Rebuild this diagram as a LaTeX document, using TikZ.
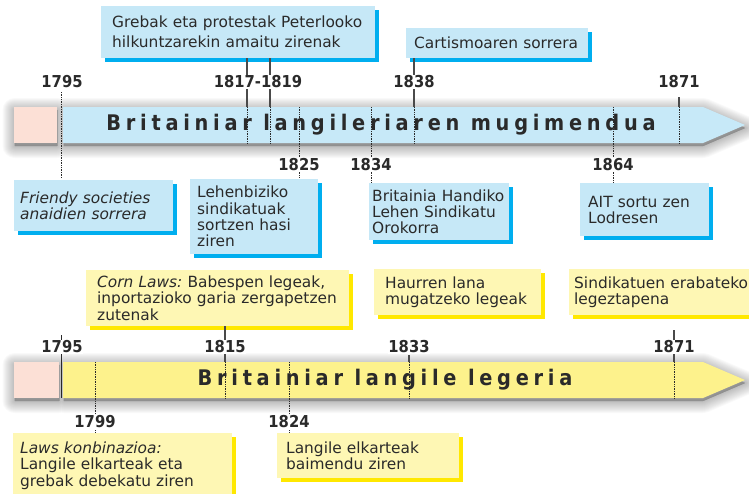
\documentclass[tikz,border=0pt]{standalone}
\usepackage{fontspec}
\setmainfont{DejaVu Sans}
\newfontfamily\condfont{DejaVu Sans Condensed}
\usetikzlibrary{shadows}
\definecolor{bandblue}{HTML}{C7E9F8}
\definecolor{boxblue}{HTML}{C6E8F7}
\definecolor{cyanS}{HTML}{00AEEF}
\definecolor{pinkc}{HTML}{FCE0D6}
\definecolor{bandyel}{HTML}{FDF28C}
\definecolor{boxyel}{HTML}{FEF7B4}
\definecolor{yelS}{HTML}{FFE800}
\definecolor{ink}{HTML}{2A2A2A}
\newcommand\bandshadow[1]{\foreach \w in {2,4,...,24}{\fill[black, opacity=0.024, draw=black, line width=\w pt, line join=round] #1;}}
\begin{document}
\begin{tikzpicture}[x=1pt,y=-1pt,
  yr/.style={font=\condfont\bfseries\fontsize{16.4}{17}\selectfont, text=ink, fill=white, inner sep=0.6pt},
  bx/.style={anchor=north west, text=ink, align=left, inner ysep=0pt, font=\fontsize{15.4}{16.3}\selectfont,
             execute at begin node={\frenchspacing\hyphenpenalty=10000\exhyphenpenalty=10000}},
  bbox/.style={bx, fill=boxblue, drop shadow={fill=cyanS, opacity=1, shadow xshift=3.5pt, shadow yshift=-3.5pt}},
  ybox/.style={bx, fill=boxyel, drop shadow={fill=yelS, opacity=1, shadow xshift=3.5pt, shadow yshift=-3.5pt}},
  dotl/.style={draw=ink, line width=0.8pt, dash pattern=on 0.8pt off 0.9pt},
  soll/.style={draw=ink!85, line width=1.3pt},
  ttl/.style={font=\condfont\bfseries\fontsize{21.5}{22}\selectfont\addfontfeatures{LetterSpace=22}, text=ink},
]
\useasboundingbox (0,0) rectangle (749,493);
\clip (0,0) rectangle (749,493);
% ---------- top band ----------
\begin{scope}[shift={(0.5,3)}]
\bandshadow{(14,107) rectangle (57,143) (63,107) -- (703,107) -- (745,125) -- (703,143) -- (63,143) -- cycle}
\end{scope}
\fill[pinkc] (14,107) rectangle (57,143);
\fill[bandblue] (63,107) -- (703,107) -- (745,125) -- (703,143) -- (63,143) -- cycle;
% ---------- bottom band ----------
\begin{scope}[shift={(0.5,3)}]
\bandshadow{(14,362) rectangle (59,398) (63,362) -- (703,362) -- (745,380) -- (703,398) -- (63,398) -- cycle}
\end{scope}
\fill[pinkc] (14,362) rectangle (59,398);
\fill[bandyel] (63,362) -- (703,362) -- (745,380) -- (703,398) -- (63,398) -- cycle;

% ---------- top boxes ----------
\node[bbox, font=\fontsize{15.4}{20}\selectfont, minimum width=274, minimum height=52, inner xsep=11, text width=252] (bA) at (101,6) {Grebak eta protestak Peterlooko\\hilkuntzarekin amaitu zirenak};
\node[bbox, minimum width=182, minimum height=30, inner xsep=8, text width=166] (bC) at (406,28) {Cartismoaren sorrera};
\node[bbox, minimum width=159, minimum height=51, inner xsep=6, text width=147] (bF) at (14,180) {\itshape Friendy societies\\\itshape anaidien sorrera};
\node[bbox, minimum width=128, minimum height=75, inner xsep=7, text width=114] (bL) at (190,179) {Lehenbiziko\\sindikatuak\\sortzen hasi\\ziren};
\node[bbox, minimum width=138, minimum height=57, inner xsep=3, text width=134] (bB) at (369,183) {Britainia Handiko\\Lehen Sindikatu\\Orokorra};
\node[bbox, minimum width=129, minimum height=53, inner xsep=8, text width=113] (bT) at (580,183) {AIT sortu zen\\Lodresen};

% ---------- bottom boxes ----------
\node[ybox, minimum width=263, minimum height=56, inner xsep=11, text width=241] (yC) at (86,270) {\textit{Corn Laws:} Babespen legeak,\\inportazioko garia zergapetzen\\zutenak};
\node[ybox, minimum width=167, minimum height=46, inner xsep=11, text width=145] (yH) at (374,269) {Haurren lana\\mugatzeko legeak};
\node[ybox, minimum width=191, minimum height=46, inner xsep=5, text width=181] (yS) at (569,269) {Sindikatuen erabateko\\legeztapena};
\node[ybox, minimum width=219, minimum height=65, inner xsep=7, text width=205] (yL) at (13,433) {\textit{Laws konbinazioa:}\\Langile elkarteak eta\\grebak debekatu ziren};
\node[ybox, minimum width=182, minimum height=45, inner xsep=9, text width=164] (yB) at (277,433) {Langile elkarteak\\baimendu ziren};

% ---------- top ticks ----------
\coordinate (a1795) at (61,92);  \coordinate (b1795) at (61,178);
\coordinate (t1817) at (247,107); \coordinate (u1817) at (247,143);
\coordinate (t1819) at (270,107); \coordinate (u1819) at (270,143);
\coordinate (t1825) at (299,107); \coordinate (u1825) at (299,178);
\coordinate (t1834) at (371,107); \coordinate (u1834) at (371,182);
\coordinate (t1838) at (414,107); \coordinate (u1838) at (414,143);
\coordinate (t1864) at (613,107); \coordinate (u1864) at (613,183);
\coordinate (s1871) at (679,97); \coordinate (t1871) at (679,107); \coordinate (u1871) at (679,143);
\draw[dotl] (a1795) -- (b1795);
\draw[soll] (bA.south -| t1817) -- (t1817);
\draw[soll] (bA.south -| t1819) -- (t1819);
\draw[soll] (bC.south -| t1838) -- (t1838);
\draw[soll] (s1871) -- (t1871);
\draw[dotl] (t1817) -- (u1817);
\draw[dotl] (t1819) -- (u1819);
\draw[dotl] (t1825) -- (u1825);
\draw[dotl] (t1834) -- (u1834);
\draw[dotl] (t1838) -- (u1838);
\draw[dotl] (t1864) -- (u1864);
\draw[dotl] (t1871) -- (u1871);

% ---------- bottom ticks ----------
\coordinate (p1795) at (61.5,335); \coordinate (q1795) at (61.5,398);
\coordinate (p1815) at (225,362); \coordinate (q1815) at (225,398);
\coordinate (o1833) at (409,355); \coordinate (p1833) at (409,362); \coordinate (q1833) at (409,398);
\coordinate (o1871) at (674,330); \coordinate (p1871) at (674,362); \coordinate (q1871) at (674,398);
\coordinate (p1799) at (95,362); \coordinate (q1799) at (95,432);
\coordinate (p1824) at (289,362); \coordinate (q1824) at (289,432);
\draw[draw=ink, line width=1.6pt] (p1795) -- (q1795);
\draw[soll] (yC.south -| p1815) -- (p1815);
\draw[soll] (o1833) -- (p1833);
\draw[soll] (o1871) -- (p1871);
\draw[dotl] (p1815) -- (q1815);
\draw[dotl] (p1833) -- (q1833);
\draw[dotl] (p1871) -- (q1871);
\draw[dotl] (p1799) -- (q1799);
\draw[dotl] (p1824) -- (q1824);

% ---------- titles ----------
\node[ttl] (T1) at (381,125) {Britainiar langileriaren mugimendua};
\node[ttl] (T2) at (385,380) {Britainiar langile legeria};

% ---------- year labels ----------
\node[yr] (y1795a) at (62,82) {1795};
\node[yr] (y1817) at (258,82) {1817-1819};
\node[yr] (y1838) at (414,82) {1838};
\node[yr] (y1871a) at (679,82) {1871};
\node[yr] (y1825) at (299,165) {1825};
\node[yr] (y1834) at (371,165) {1834};
\node[yr] (y1864) at (613,165) {1864};
\node[yr] (y1795b) at (62,347) {1795};
\node[yr] (y1815) at (225,347) {1815};
\node[yr] (y1833) at (409,347) {1833};
\node[yr] (y1871b) at (674,347) {1871};
\node[yr] (y1799) at (95,422) {1799};
\node[yr] (y1824) at (289,422) {1824};
\end{tikzpicture}
\end{document}
